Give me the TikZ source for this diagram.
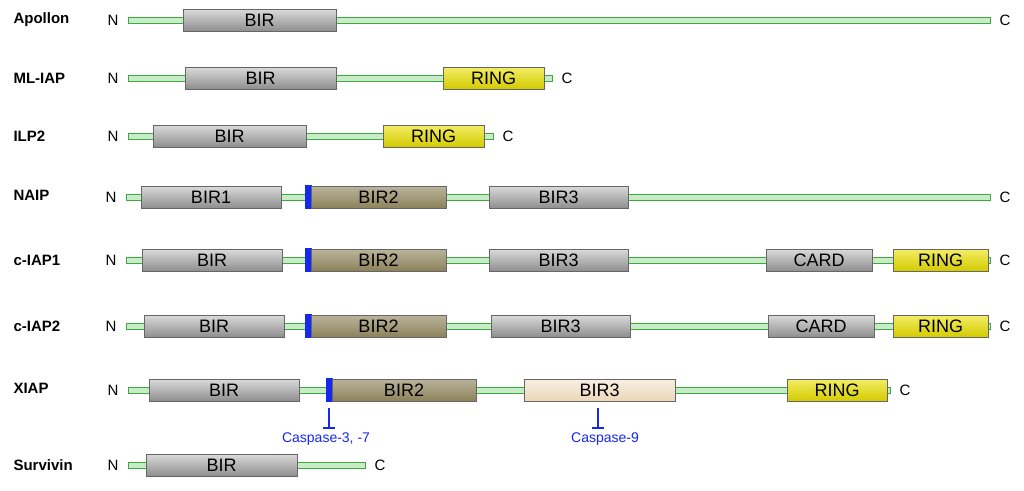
\documentclass[tikz,border=0pt]{standalone}
\usepackage{fontspec}
\setmainfont{Liberation Sans}
\usetikzlibrary{positioning}
\usetikzlibrary{arrows}
\definecolor{bbgreen}{RGB}{60,170,60}
\definecolor{bbfill}{RGB}{200,235,200}
\definecolor{birgray}{RGB}{150,150,150}
\definecolor{bir2}{RGB}{140,130,90}
\definecolor{bir3}{RGB}{235,215,185}
\definecolor{ringy}{RGB}{235,225,0}
\definecolor{casp}{RGB}{20,40,240}
\tikzset{
  protein/.style={anchor=west,font=\fontsize{15}{15}\selectfont\bfseries},
  term/.style={font=\fontsize{15}{15}\selectfont},
  backbone/.style={draw=bbgreen,fill=bbfill,line width=1pt},
  dom/.style={draw=black!60,line width=0.8pt,minimum height=22pt,inner sep=0pt,
    font=\fontsize{18}{18}\selectfont},
  bir/.style={dom,top color=birgray!35,bottom color=birgray!95!black},
  birtwo/.style={dom,top color=bir2!60!white,bottom color=bir2},
  birthree/.style={dom,top color=bir3!40!white,bottom color=bir3},
  ring/.style={dom,top color=ringy!60!white,bottom color=ringy!90!black},
  cutsite/.style={fill=casp,draw=none,minimum height=24pt,minimum width=7pt,inner sep=0pt},
  cleave/.style={casp,line width=2pt},
  clabel/.style={text=casp,font=\fontsize{14}{14}\selectfont}
}
% domain at x from #2 to #3 on row #4
\newcommand\domain[6]{\node[#1,minimum width={(#3-#2)*1pt}] (#6) at ({(#2+#3)/2},#4) {#5};}
\newcommand\chain[4]{%
  \node[term,anchor=east] (#1N) at (#2-6,#4) {N};
  \filldraw[backbone] (#2,#4-3) rectangle (#3,#4+3);
  \node[term,anchor=west] (#1C) at (#3+6,#4) {C};}
\begin{document}
\begin{tikzpicture}[x=1pt,y=-1pt]
  \useasboundingbox (0,0) rectangle (1024,490);
  % Apollon
  \node[protein] (apollon) at (10,20) {Apollon};
  \chain{ap}{128}{990}{20}
  \domain{bir}{183}{336}{20}{BIR}{apBIR}
  % ML-IAP
  \node[protein] (mliap) at (10,78) {ML-IAP};
  \chain{ml}{128}{552}{78}
  \domain{bir}{185}{336}{78}{BIR}{mlBIR}
  \domain{ring}{443}{544}{78}{RING}{mlRING}
  % ILP2
  \node[protein] (ilp) at (10,136) {ILP2};
  \chain{il}{128}{493}{136}
  \domain{bir}{153}{306}{136}{BIR}{ilBIR}
  \domain{ring}{383}{484}{136}{RING}{ilRING}
  % NAIP
  \node[protein] (naip) at (10,195) {NAIP};
  \chain{na}{126}{990}{197}
  \domain{bir}{141}{281}{197}{BIR1}{naBIRa}
  \node[cutsite] (naBL) at (308,197) {};
  \domain{birtwo}{311}{446}{197}{BIR2}{naBIRb}
  \domain{bir}{489}{628}{197}{BIR3}{naBIRc}
  % c-IAP1
  \node[protein] (ciapa) at (10,260) {c-IAP1};
  \chain{ca}{126}{990}{260}
  \domain{bir}{142}{282}{260}{BIR}{caBIR}
  \node[cutsite] (caBL) at (308,260) {};
  \domain{birtwo}{311}{446}{260}{BIR2}{caBIRb}
  \domain{bir}{489}{628}{260}{BIR3}{caBIRc}
  \domain{bir}{766}{872}{260}{CARD}{caCARD}
  \domain{ring}{893}{988}{260}{RING}{caRING}
  % c-IAP2
  \node[protein] (ciapb) at (10,326) {c-IAP2};
  \chain{cb}{126}{990}{326}
  \domain{bir}{144}{284}{326}{BIR}{cbBIR}
  \node[cutsite] (cbBL) at (308,326) {};
  \domain{birtwo}{311}{446}{326}{BIR2}{cbBIRb}
  \domain{bir}{491}{630}{326}{BIR3}{cbBIRc}
  \domain{bir}{768}{874}{326}{CARD}{cbCARD}
  \domain{ring}{893}{988}{326}{RING}{cbRING}
  % XIAP
  \node[protein] (xiap) at (10,388) {XIAP};
  \chain{xi}{128}{890}{390}
  \domain{bir}{149}{299}{390}{BIR}{xiBIR}
  \node[cutsite] (xiBL) at (329,390) {};
  \domain{birtwo}{332}{476}{390}{BIR2}{xiBIRb}
  \domain{birthree}{524}{675}{390}{BIR3}{xiBIRc}
  \domain{ring}{787}{887}{390}{RING}{xiRING}
  \node[clabel] (c37) at (326,439) {Caspase-3, -7};
  \node[clabel] (c9) at (605,439) {Caspase-9};
  \coordinate (c37t) at (329,408);
  \coordinate (c9t) at (598,408);
  \draw[cleave,-|] (c37t) -- (c37.north -| c37t);
  \draw[cleave,-|] (c9t) -- (c9.north -| c9t);
  % Survivin
  \node[protein] (surv) at (10,465) {Survivin};
  \chain{su}{128}{365}{465}
  \domain{bir}{146}{297}{465}{BIR}{suBIR}
\end{tikzpicture}
\end{document}
